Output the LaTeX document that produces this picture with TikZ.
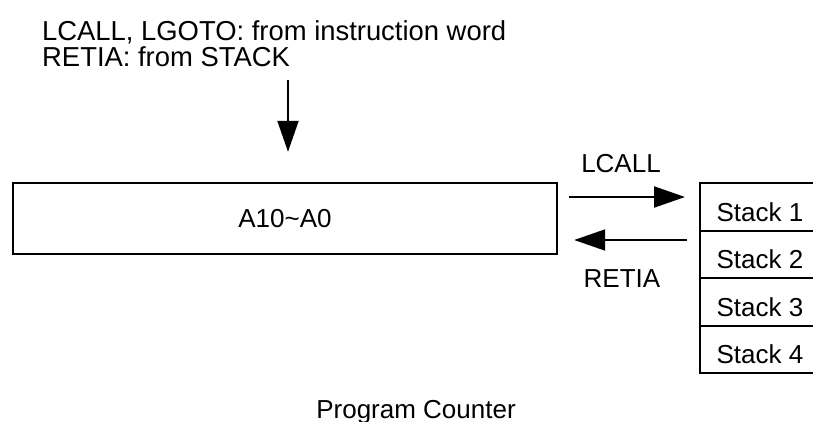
\documentclass[tikz,border=0pt]{standalone}
\usepackage{fontspec}
\setmainfont{Liberation Sans}
\usetikzlibrary{arrows.meta}
\begin{document}
\begin{tikzpicture}[x=1pt,y=1pt,
  txt/.style={font=\fontsize{26}{28}\selectfont, inner sep=0pt},
  toptxt/.style={font=\fontsize{27.4}{29}\selectfont, inner sep=0pt},
  pcbox/.style={draw, line width=2.4pt, minimum width=544pt, minimum height=71pt, inner sep=0pt, font=\fontsize{26}{28}\selectfont},
  cell/.style={draw, line width=2pt, minimum width=120pt, minimum height=47.5pt, inner sep=0pt, outer sep=0pt, text height=28pt, text depth=0pt, font=\fontsize{26}{28}\selectfont},
  arr/.style={line width=2pt, -{Triangle[length=31pt,width=21pt]}}]
\useasboundingbox (0,0) rectangle (813,-422);
% top labels
\node[toptxt, anchor=base west] (t1) at (42,-41) {LCALL, LGOTO: from instruction word};
\node[toptxt, anchor=base west] (t2) at (42,-67) {RETIA: from STACK};
% program counter box
\node[pcbox] (pc) at (285,-218.5) {A10\textasciitilde A0};
% stack
\node[cell] (s1) at (760,-207) {Stack 1};
\node[cell, anchor=north] (s2) at (s1.south) {Stack 2};
\node[cell, anchor=north] (s3) at (s2.south) {Stack 3};
\node[cell, anchor=north] (s4) at (s3.south) {Stack 4};
% arrows
\coordinate (dstart) at (288,-80);
\draw[arr] (dstart) -- ([yshift=30pt]pc.north -| dstart);
\coordinate (ly) at (0,-197);
\coordinate (ry) at (0,-240);
\draw[arr, shorten <=11pt, shorten >=15pt] (pc.east |- ly) -- (s1.west |- ly);
\draw[arr, shorten <=13pt, shorten >=16pt] (s1.west |- ry) -- (pc.east |- ry);
\node[txt, anchor=base] (lcall) at (621,-172) {LCALL};
\node[txt, anchor=base] (retia) at (622,-287) {RETIA};
\node[txt, anchor=base] (pclabel) at (416,-418) {Program Counter};
\end{tikzpicture}
\end{document}
